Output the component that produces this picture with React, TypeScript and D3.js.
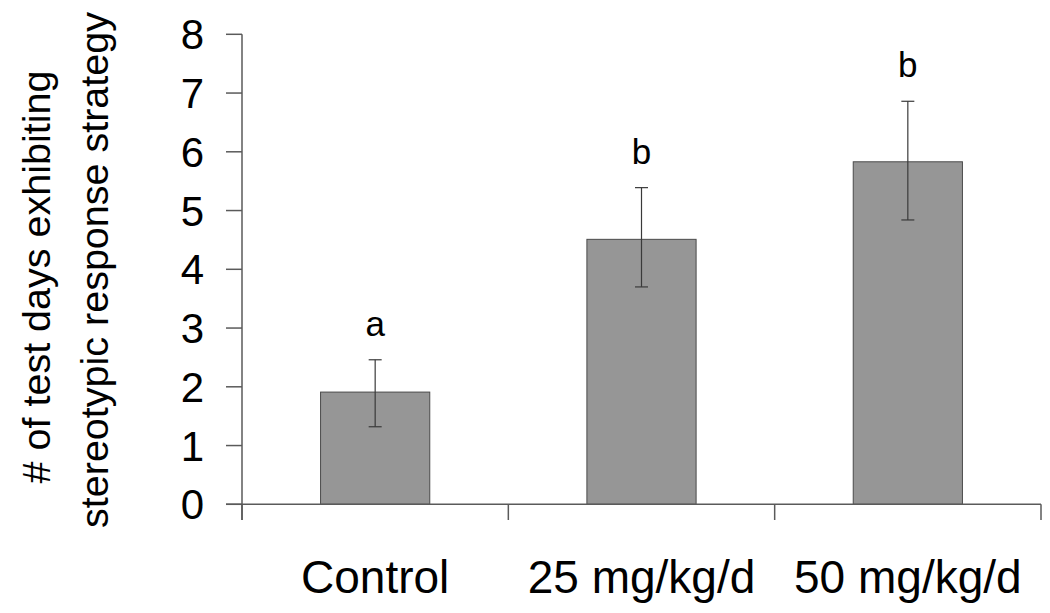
import React from "react";
import * as d3 from "d3";

const categories = ["Control", "25 mg/kg/d", "50 mg/kg/d"];
const means = [1.91, 4.51, 5.83];
const errUpper = [2.46, 5.39, 6.86];
const errLower = [1.32, 3.7, 4.84];
const sigLetters = ["a", "b", "b"];
const yTicks = [0, 1, 2, 3, 4, 5, 6, 7, 8];
const yLabelLines = ["# of test days exhibiting", "stereotypic response strategy"];

const W = 1050;
const H = 613;
const left = 242;
const right = 1041;
const top = 34.3;
const bottom = 504.3;
const font = "'Liberation Sans', Arial, Helvetica, sans-serif";

export default function App() {
  const x = d3.scaleBand<string>().domain(categories).range([left, right]).padding(0);
  const y = d3.scaleLinear().domain([0, 8]).range([bottom, top]);
  const bw = x.bandwidth() * 0.41;
  const axisColor = "#5a5a5a";
  const bandEdges = [left, ...categories.map((c) => (x(c) as number) + x.bandwidth())];

  return (
    <svg
      width={W}
      height={H}
      style={{ position: "absolute", left: 0, top: 0, background: "#fff" }}
      fontFamily={font}
    >
      {/* bars */}
      {categories.map((c, i) => {
        const cx = (x(c) as number) + x.bandwidth() / 2;
        return (
          <g key={c}>
            <rect
              x={cx - bw / 2}
              y={y(means[i])}
              width={bw}
              height={y(0) - y(means[i])}
              fill="#969696"
              stroke="#4a4a4a"
              strokeWidth={1}
            />
            <line x1={cx} x2={cx} y1={y(errUpper[i])} y2={y(errLower[i])} stroke="#3a3a3a" strokeWidth={1.2} />
            <line x1={cx - 6.5} x2={cx + 6.5} y1={y(errUpper[i])} y2={y(errUpper[i])} stroke="#3a3a3a" strokeWidth={1.2} />
            <line x1={cx - 6.5} x2={cx + 6.5} y1={y(errLower[i])} y2={y(errLower[i])} stroke="#3a3a3a" strokeWidth={1.2} />
            <text x={cx} y={y(errUpper[i]) - 24} textAnchor="middle" fontSize={35} fill="#000">
              {sigLetters[i]}
            </text>
            <text x={cx} y={593} textAnchor="middle" fontSize={46} fill="#000">
              {c}
            </text>
          </g>
        );
      })}
      {/* y axis */}
      <line x1={left} x2={left} y1={top} y2={520} stroke={axisColor} strokeWidth={1.5} />
      {yTicks.map((t) => (
        <g key={t}>
          <line x1={226} x2={left} y1={y(t)} y2={y(t)} stroke={axisColor} strokeWidth={1.5} />
          <text x={204} y={y(t)} dy="0.36em" textAnchor="end" fontSize={42} fill="#000">
            {t}
          </text>
        </g>
      ))}
      {/* x axis */}
      <line x1={226} x2={right} y1={bottom} y2={bottom} stroke={axisColor} strokeWidth={1.5} />
      {bandEdges.map((e, i) => (
        <line key={i} x1={e} x2={e} y1={bottom} y2={520} stroke={axisColor} strokeWidth={1.5} />
      ))}
      {/* y label */}
      {yLabelLines.map((l, i) => (
        <text
          key={i}
          transform={`translate(${50 + i * 58},${i === 0 ? 277 : 270}) rotate(-90)`}
          textAnchor="middle"
          fontSize={39.5}
          fill="#000"
        >
          {l}
        </text>
      ))}
    </svg>
  );
}
